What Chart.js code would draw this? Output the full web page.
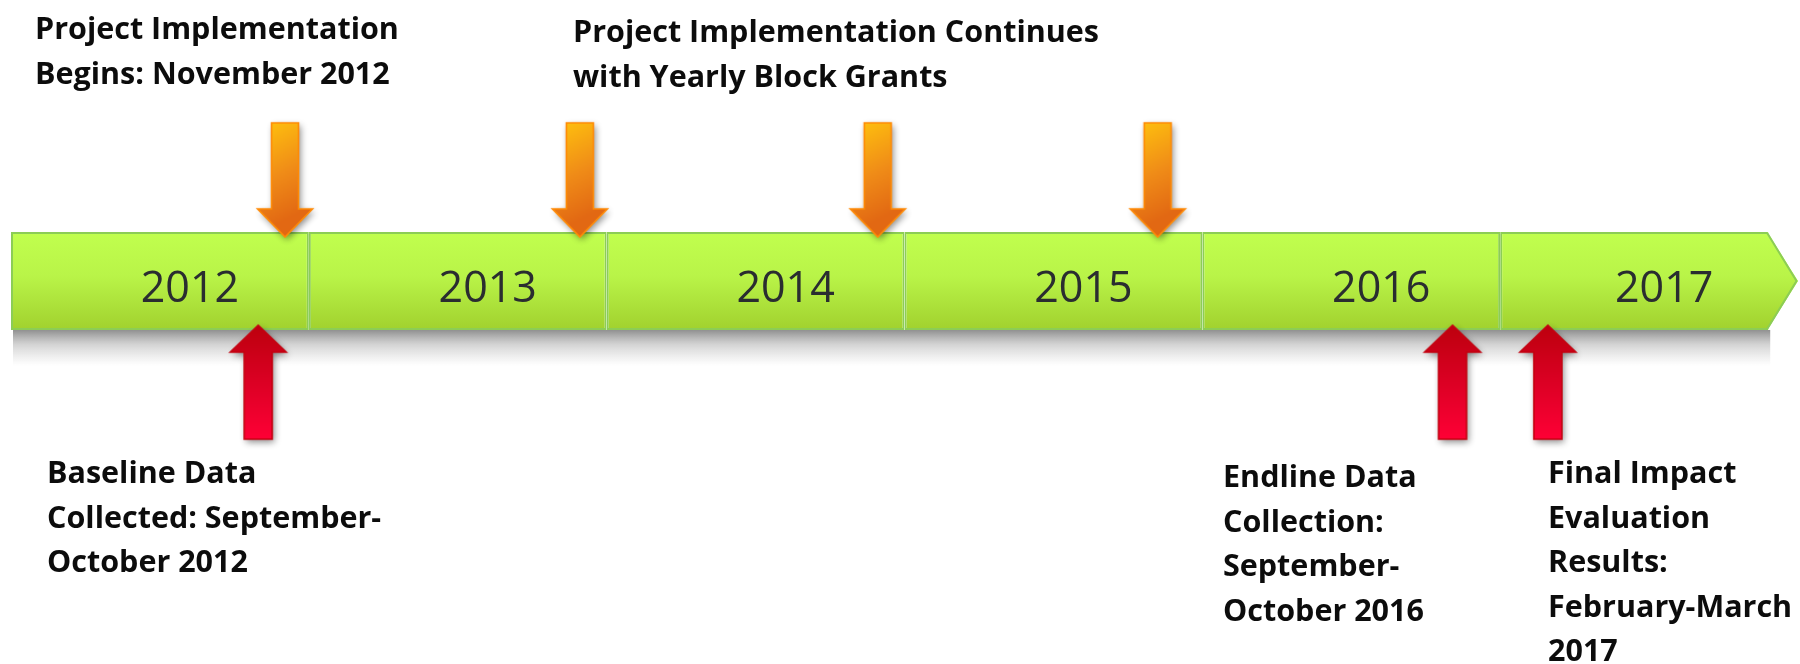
<!DOCTYPE html>
<html>
<head>
<meta charset="utf-8">
<script src="https://cdn.jsdelivr.net/npm/chart.js@4.4.0/dist/chart.umd.min.js"></script>
<style>
  html, body { margin: 0; padding: 0; background: #ffffff; }
  #wrap { width: 1800px; height: 664px; position: relative; }
</style>
</head>
<body>
<div id="wrap"><canvas id="c"></canvas></div>
<script>
// ---------------- data ----------------
const years = [2012, 2013, 2014, 2015, 2016, 2017];
const yearLabels = ['2012', '2013', '2014', '2015', '2016', '2017'];
const timelineEnd = 2018;
// orange arrows: project implementation / yearly block grants (fractional year)
const implementationDates = [2012.92, 2013.91, 2014.91, 2015.85];
// red arrows: data collection / results (fractional year)
const dataCollectionDates = [2012.83, 2016.84, 2017.16];
const topNotes = [
  ['Project Implementation', 'Begins: November 2012'],
  ['Project Implementation Continues', 'with Yearly Block Grants']
];
const bottomNotes = [
  ['Baseline Data', 'Collected: September-', 'October 2012'],
  ['Endline Data', 'Collection:', 'September-', 'October 2016'],
  ['Final Impact', 'Evaluation', 'Results:', 'February-March', '2017']
];

// ---------------- layout / style ----------------
const CHEVRON = 0.1;          // length of the arrow tip, in years
const BAND_THICKNESS = 98;
const LANE_ABOVE = 0.36;
const LANE_BELOW = -0.36;
const GREEN_EDGE = '#8ccd55';
const noteLayout = {
  top: [{ x: 35, y: 39 }, { x: 573, y: 42 }],
  bottom: [{ x: 47, y: 483 }, { x: 1223, y: 487 }, { x: 1548, y: 483 }],
  lineHeight: 44.5
};
const NOTE_FONT = 'bold 30.5px "Open Sans"';
const YEAR_FONT = '43px "Open Sans"';

function makeArrow(dir) {
  const W = 100, H = 164;
  const c = document.createElement('canvas');
  c.width = W; c.height = H;
  const g = c.getContext('2d');
  const cx = W / 2, cy = H / 2, L = 57;
  let pts, grad, stroke;
  if (dir === 'down') {
    const sw = 13.5, hw = 27.5, hy = cy + 29;
    pts = [[cx - sw, cy - L], [cx + sw, cy - L], [cx + sw, hy], [cx + hw, hy], [cx, cy + L], [cx - hw, hy], [cx - sw, hy]];
    grad = g.createLinearGradient(cx - 22, cy - L, cx + 22, cy + 30);
    grad.addColorStop(0, '#ffc20e');
    grad.addColorStop(0.55, '#f08c18');
    grad.addColorStop(1, '#e26813');
    stroke = '#ff8a06';
  } else {
    const sw = 14, hw = 28, hy = cy - L + 27;
    pts = [[cx, cy - L], [cx + hw, hy], [cx + sw, hy], [cx + sw, cy + L], [cx - sw, cy + L], [cx - sw, hy], [cx - hw, hy]];
    grad = g.createLinearGradient(0, cy - L, 0, cy + L);
    grad.addColorStop(0, '#bd000e');
    grad.addColorStop(0.5, '#dc0024');
    grad.addColorStop(1, '#ff0036');
    stroke = '#c4000f';
  }
  g.beginPath();
  pts.forEach((p, i) => i ? g.lineTo(p[0], p[1]) : g.moveTo(p[0], p[1]));
  g.closePath();
  g.save();
  g.shadowColor = 'rgba(0,0,0,0.45)';
  g.shadowBlur = 7;
  g.shadowOffsetX = 2;
  g.shadowOffsetY = 3;
  g.fillStyle = grad;
  g.fill();
  g.restore();
  g.lineWidth = 1.6;
  g.strokeStyle = stroke;
  g.lineJoin = 'miter';
  g.stroke();
  return c;
}

function bandGradient(chart) {
  if (!chart.chartArea) return '#b8f047';
  const yc = chart.scales.y.getPixelForValue(0);
  const g = chart.ctx.createLinearGradient(0, yc - BAND_THICKNESS / 2, 0, yc + BAND_THICKNESS / 2);
  g.addColorStop(0, '#c1ff4e');
  g.addColorStop(0.45, '#b9f448');
  g.addColorStop(1, '#a1d12e');
  return g;
}

const timelinePlugin = {
  id: 'timeline',
  beforeDatasetsDraw(chart) {
    const ctx = chart.ctx, xs = chart.scales.x, ys = chart.scales.y;
    const yc = ys.getPixelForValue(0);
    const bottom = yc + BAND_THICKNESS / 2;
    const l = xs.getPixelForValue(years[0]);
    const r = xs.getPixelForValue(timelineEnd - CHEVRON);
    const g = ctx.createLinearGradient(0, bottom, 0, bottom + 36);
    g.addColorStop(0, 'rgba(70,70,70,0.6)');
    g.addColorStop(0.4, 'rgba(110,110,110,0.3)');
    g.addColorStop(1, 'rgba(150,150,150,0)');
    ctx.save();
    ctx.fillStyle = g;
    ctx.fillRect(l + 2, bottom, r - l, 36);
    ctx.restore();
  },
  afterDatasetDraw(chart, args) {
    if (args.index !== 0) return;
    const ctx = chart.ctx, xs = chart.scales.x, ys = chart.scales.y;
    const yc = ys.getPixelForValue(0);
    const top = yc - BAND_THICKNESS / 2, bottom = yc + BAND_THICKNESS / 2;
    const r = xs.getPixelForValue(timelineEnd - CHEVRON);
    const tip = xs.getPixelForValue(timelineEnd);
    ctx.save();
    // chevron tip
    ctx.beginPath();
    ctx.moveTo(r - 1, top);
    ctx.lineTo(tip, yc);
    ctx.lineTo(r - 1, bottom);
    ctx.closePath();
    ctx.fillStyle = bandGradient(chart);
    ctx.fill();
    ctx.beginPath();
    ctx.moveTo(r - 1, top + 1);
    ctx.lineTo(tip - 1.5, yc);
    ctx.lineTo(r - 1, bottom - 1);
    ctx.lineWidth = 2;
    ctx.strokeStyle = GREEN_EDGE;
    ctx.stroke();
    // year labels
    const meta = chart.getDatasetMeta(0);
    ctx.font = YEAR_FONT;
    ctx.fillStyle = '#2a2d30';
    ctx.textAlign = 'center';
    ctx.textBaseline = 'alphabetic';
    meta.data.forEach((el, i) => {
      const cx = (el.x + el.base) / 2 + 30;
      ctx.fillText(yearLabels[i], cx, yc + 21);
    });
    ctx.restore();
  },
  afterDraw(chart) {
    const ctx = chart.ctx;
    ctx.save();
    ctx.font = NOTE_FONT;
    ctx.fillStyle = '#0c0c0c';
    ctx.textAlign = 'left';
    ctx.textBaseline = 'alphabetic';
    const put = (lines, pos) => lines.forEach((t, i) => ctx.fillText(t, pos.x, pos.y + i * noteLayout.lineHeight));
    topNotes.forEach((lines, i) => put(lines, noteLayout.top[i]));
    bottomNotes.forEach((lines, i) => put(lines, noteLayout.bottom[i]));
    ctx.restore();
  }
};

function build() {
  const orangeArrow = makeArrow('down');
  const redArrow = makeArrow('up');
  const barData = years.map((y, i) => ({
    y: 0,
    x: [y, i === years.length - 1 ? timelineEnd - CHEVRON : y + 1]
  }));
  new Chart(document.getElementById('c'), {
    type: 'bar',
    data: {
      datasets: [
        {
          type: 'bar',
          label: 'Years',
          indexAxis: 'y',
          data: barData,
          barThickness: BAND_THICKNESS,
          borderWidth: 2,
          borderColor: GREEN_EDGE,
          borderSkipped: (c) => c.dataIndex === years.length - 1 ? 'right' : false,
          backgroundColor: (c) => bandGradient(c.chart),
          inflateAmount: 0,
          order: 3
        },
        {
          type: 'scatter',
          label: 'Project implementation',
          data: implementationDates.map(d => ({ x: d, y: LANE_ABOVE })),
          pointStyle: orangeArrow,
          pointRadius: 2,
          clip: false,
          order: 1
        },
        {
          type: 'scatter',
          label: 'Data collection',
          data: dataCollectionDates.map(d => ({ x: d, y: LANE_BELOW })),
          pointStyle: redArrow,
          pointRadius: 2,
          clip: false,
          order: 1
        }
      ]
    },
    options: {
      responsive: true,
      maintainAspectRatio: false,
      animation: false,
      events: [],
      layout: { autoPadding: false, padding: { left: 11, right: 2, top: 0, bottom: 102 } },
      plugins: { legend: { display: false }, tooltip: { enabled: false } },
      scales: {
        x: { type: 'linear', min: years[0], max: timelineEnd, offset: false, display: false },
        y: { type: 'linear', min: -1, max: 1, offset: false, display: false }
      }
    },
    plugins: [timelinePlugin]
  });
}

Promise.all([
  document.fonts.load(NOTE_FONT),
  document.fonts.load(YEAR_FONT)
]).then(build, build);
</script>
</body>
</html>
